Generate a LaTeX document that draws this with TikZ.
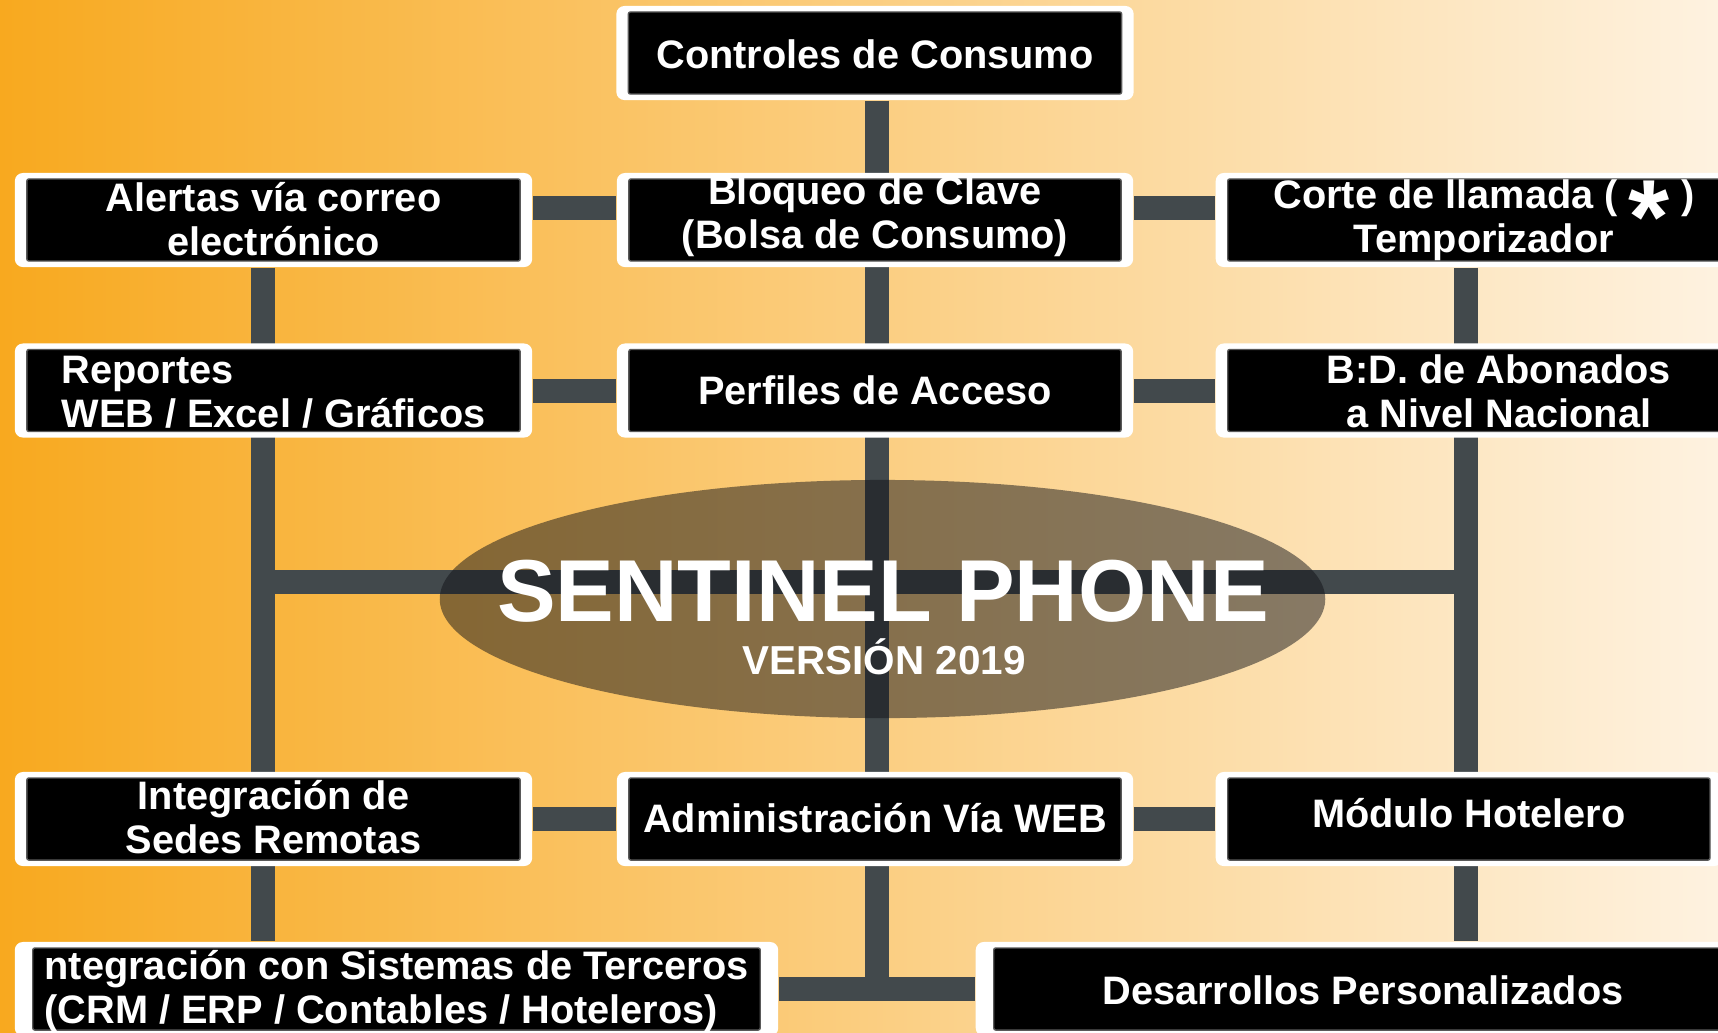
\documentclass[tikz,border=0pt]{standalone}
\usepackage{fontspec}
\setmainfont{Liberation Sans}
\usepackage{xcolor}
\usetikzlibrary{shapes.geometric,backgrounds}

\definecolor{wiregray}{RGB}{66,73,76}
\definecolor{bgleft}{RGB}{248,169,31}
\definecolor{bgmid}{RGB}{249,206,136}
\definecolor{bgright}{RGB}{254,242,224}
\definecolor{coreshade}{RGB}{18,19,24}

\newcommand{\boxfont}{\fontsize{11.3}{12.5}\selectfont\bfseries}
\newcommand{\titlefont}{\fontsize{25}{30}\selectfont\bfseries}
\newcommand{\subtitlefont}{\fontsize{11.5}{14}\selectfont\bfseries}
\newcommand{\bigast}{\smash{\raisebox{-0.45cm}{\fontsize{30}{30}\selectfont *}}}

\tikzset{
    featbox/.style={fill=white, rounded corners=0.08cm, inner sep=0pt,
        minimum width=5.17cm, minimum height=0.94cm,
        text=white, font=\boxfont, align=center,
        path picture={\fill[black, draw=black!65, line width=0.4pt, rounded corners=0.02cm]
            ([xshift=#1, yshift=-0.06cm]path picture bounding box.north west) rectangle
            ([xshift=-#1, yshift=0.06cm]path picture bounding box.south east);}},
    featbox/.default=0.12cm,
    tb/.style 2 args={text height=#1, text depth=#2},
    wire/.style={draw=wiregray, line width=0.24cm},
    core/.style={ellipse, fill=coreshade, fill opacity=0.5, inner sep=0pt,
        minimum width=8.85cm, minimum height=2.38cm},
}

\begin{document}
\begin{tikzpicture}[x=0.01cm, y=-0.01cm]
    \useasboundingbox (0,0) rectangle (1718,1032);

    \node[featbox, tb={0.30cm}{0cm}] (ctrl) at (875,53) {Controles de Consumo};

    \node[featbox, tb={0.70cm}{0cm}] (alert) at (273.5,220) {Alertas vía correo\\electrónico};
    \node[featbox, tb={0.56cm}{0cm}, minimum width=5.16cm] (bloq) at (875,220) {Bloqueo de Clave\\(Bolsa de Consumo)};
    \node[featbox, tb={0.64cm}{0cm}, anchor=west, minimum width=5.36cm] (corte) at (1215,220) {Corte de llamada ( \bigast{} )\\Temporizador};

    \node[featbox, tb={0.73cm}{0cm}, align=left] (rep) at (273.5,390.5) {Reportes\\WEB / Excel / Gráficos};
    \node[featbox, tb={0.27cm}{0cm}, minimum width=5.16cm] (perf) at (875,390.5) {Perfiles de Acceso};
    \node[featbox, tb={0.73cm}{0cm}, anchor=west, minimum width=5.66cm] (bd) at (1215,390.5) {B:D. de Abonados\\a Nivel Nacional};

    \node[core] (core) at (882.5,599) {};
    \node[anchor=base, text=white, font=\titlefont] (name) at (883,621) {SENTINEL PHONE};
    \node[anchor=base, text=white, font=\subtitlefont] (ver) at (884,674) {VERSIÓN 2019};

    \node[featbox, tb={0.68cm}{0cm}] (sedes) at (273.5,819) {Integración de\\Sedes Remotas};
    \node[featbox, tb={0.26cm}{0cm}, minimum width=5.16cm] (admin) at (875,819) {Administración Vía WEB};
    \node[featbox, tb={0.16cm}{0cm}, anchor=west, minimum width=5.06cm] (modulo) at (1215,819) {Módulo Hotelero};

    \node[featbox=0.18cm, tb={0.68cm}{0cm}, align=left, minimum width=7.63cm] (integ) at (396.5,989) {ntegración con Sistemas de Terceros\\(CRM / ERP / Contables / Hoteleros)};
    \node[featbox=0.18cm, tb={0.30cm}{0cm}, anchor=west, minimum width=7.74cm] (desa) at (975,989) {Desarrollos Personalizados};

    \begin{scope}[on background layer]
        \shade[left color=bgleft, middle color=bgmid, right color=bgright] (0,0) rectangle (1718,1032);
        \coordinate (lbus) at (263,582);
        \coordinate (cbus) at (877,582);
        \coordinate (rbus) at (1466,582);
        \draw[wire] (alert.south -| lbus) -- (integ.north -| lbus);
        \draw[wire] (ctrl.south -| cbus) -- (cbus |- integ);
        \draw[wire] (corte.south -| rbus) -- (desa.north -| rbus);
        \draw[wire] (lbus) -- (rbus);
        \draw[wire] ([yshift=0.125cm]alert.east) -- ([yshift=0.125cm]bloq.west);
        \draw[wire] ([yshift=0.125cm]bloq.east) -- ([yshift=0.125cm]corte.west);
        \draw[wire] (rep) -- (perf);
        \draw[wire] (perf) -- (bd);
        \draw[wire] (sedes) -- (admin);
        \draw[wire] (admin) -- (modulo);
        \draw[wire] (integ) -- (desa);
    \end{scope}
\end{tikzpicture}
\end{document}
